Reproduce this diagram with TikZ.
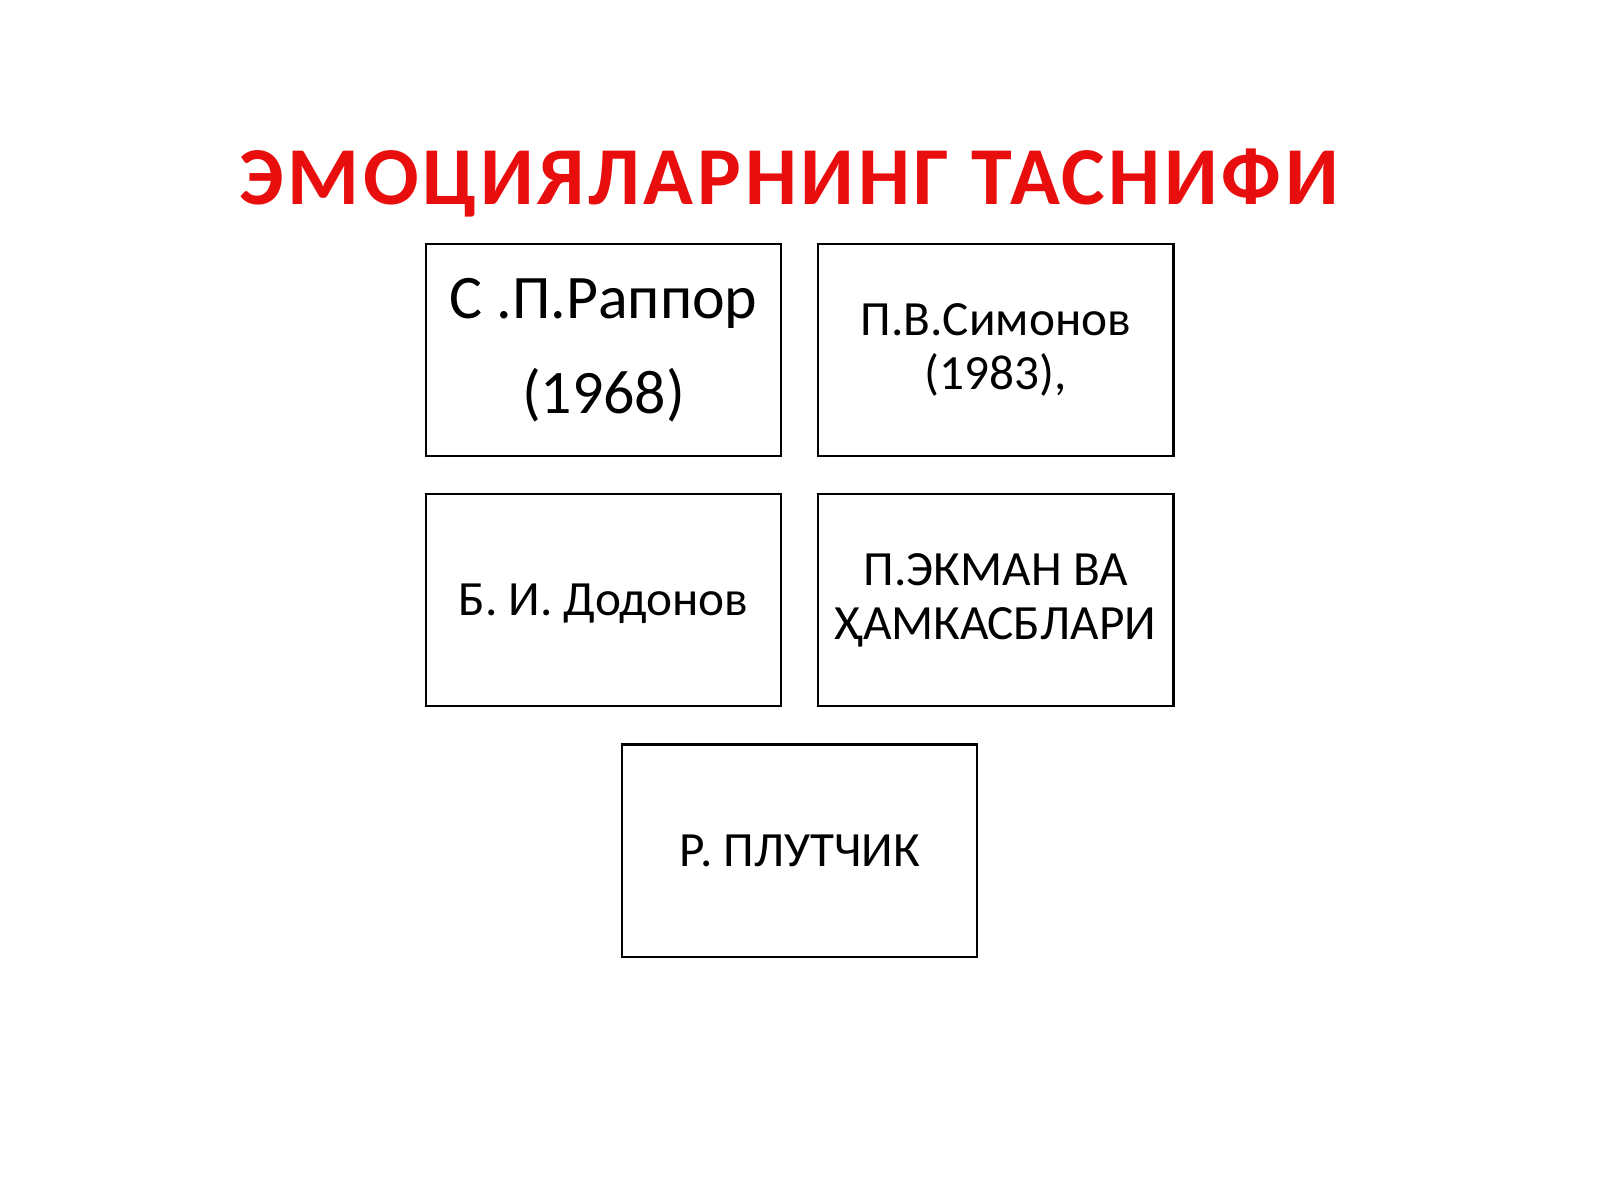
\documentclass[tikz,border=0pt]{standalone}
\usepackage{fontspec}
\setmainfont{Carlito}
\usetikzlibrary{positioning,calc}
\definecolor{titlered}{RGB}{232,14,14}
\tikzset{
  box/.style={draw, line width=0.6pt, minimum width=3.55cm, minimum height=2.12cm, inner sep=0pt},
  boxtext/.style={align=center, inner sep=0pt, font=\fontsize{14}{15.3}\selectfont},
}
\begin{document}
\begin{tikzpicture}[x=0.01cm, y=-0.01cm, node distance=0.36cm]
\useasboundingbox (0,0) rectangle (1600,1200);
\node[text=titlered, font=\fontsize{23.4}{28}\selectfont\bfseries\addfontfeature{LetterSpace=4.5}] (title) at (789,183) {ЭМОЦИЯЛАРНИНГ ТАСНИФИ};
\node[box] (rappor) at (603.5,350) {};
\node[box, right=0.35cm of rappor] (simonov) {};
\node[box, below=of rappor] (dodonov) {};
\node[box, below=of simonov] (ekman) {};
\coordinate (mid) at ($(dodonov.south)!0.5!(ekman.south)$);
\node[box, below=of mid] (plutchik) {};
\node[boxtext, font=\fontsize{17.6}{27}\selectfont] (rapportext) at (rappor.center) {С .П.Раппор\\(1968)};
\node[boxtext] (simonovtext) at (simonov.center) {П.В.Симонов\\(1983),};
\node[boxtext] (dodonovtext) at ([yshift=-0.03cm]dodonov.center) {Б. И. Додонов};
\node[boxtext] (ekmantext) at (ekman.center) {П.ЭКМАН ВА\\ҲАМКАСБЛАРИ};
\node[boxtext] (plutchiktext) at (plutchik.center) {Р. ПЛУТЧИК};
\end{tikzpicture}
\end{document}
